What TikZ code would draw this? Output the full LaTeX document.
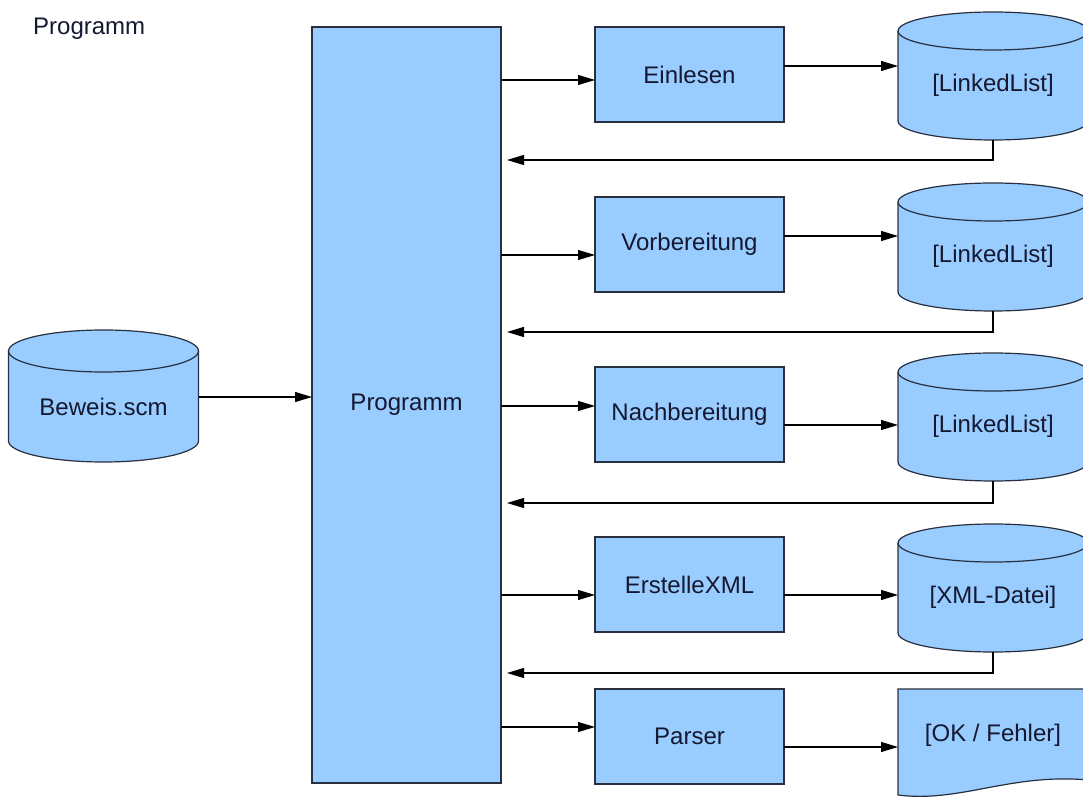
\documentclass[tikz,border=0pt]{standalone}
\usepackage{fontspec}
\setmainfont{Liberation Sans}
\usetikzlibrary{arrows.meta,calc,backgrounds}

\definecolor{boxfill}{RGB}{153,204,255}
\definecolor{boxline}{RGB}{40,48,64}
\definecolor{txt}{RGB}{20,24,48}

% Data store drawn as a cylinder: name, centre x, top y, bottom y, cap radius, label
\newcommand\DataStore[6]{%
  \node[dbbody, minimum height={#3-#5-#4}] (#1) at ({#2},{(#3-#5+#4)/2}) {#6};
  \begin{scope}[on background layer]
    \path[dbshape] (#1.north west) -- ([yshift=#5pt]#1.south west)
      arc[start angle=180, end angle=360, x radius=95pt, y radius=#5pt]
      -- (#1.north east)
      arc[start angle=0, end angle=180, x radius=95pt, y radius=#5pt] -- cycle;
    \draw[dbline] (#1.north west)
      arc[start angle=180, end angle=360, x radius=95pt, y radius=#5pt];
  \end{scope}%
}

\begin{document}
\begin{tikzpicture}[x=1pt, y=1pt,
  font=\fontsize{24}{28}\selectfont,
  every node/.style={text=txt},
  procbox/.style={draw=boxline, fill=boxfill, line width=1.2pt,
    minimum width=189pt, minimum height=95pt, inner sep=0pt, outer sep=0pt},
  dbbody/.style={inner sep=0pt, outer sep=0pt, minimum width=190pt},
  dbshape/.style={draw=boxline, fill=boxfill, line width=1.2pt},
  dbline/.style={draw=boxline, line width=1.2pt},
  flow/.style={draw=black, line width=1.1pt, -{Triangle[length=17pt, width=10pt]}},
]
\useasboundingbox (0,0) rectangle (1083,798);
\clip (0,0) rectangle (1083,798);

% title
\node[anchor=base west, inner sep=0pt] (title) at (33,763) {Programm};

% main program block
\node[procbox, minimum height=756pt] (prog) at (406.5,393) {Programm};
\coordinate (back) at ($(prog.east)+(6,0)$);

% input file
\DataStore{bew}{103.5}{468}{336}{21}{Beweis.scm}

% processing steps
\node[procbox] (p1) at (689.5,723.5) {Einlesen};
\node[procbox] (p2) at (689.5,553.5) {Vorbereitung};
\node[procbox] (p3) at (689.5,383.5) {Nachbereitung};
\node[procbox] (p4) at (689.5,213.5) {ErstelleXML};
\node[procbox] (p5) at (689.5,61.5) {Parser};

% intermediate results
\DataStore{c1}{993}{786}{658}{19}{[LinkedList]}
\DataStore{c2}{993}{615}{487}{19}{[LinkedList]}
\DataStore{c3}{993}{445}{317}{19}{[LinkedList]}
\DataStore{c4}{993}{274}{146}{19}{[XML-Datei]}

% final result as a document shape
\node[dbbody, minimum height=92pt] (res) at (993,63) {[OK / Fehler]};
\begin{scope}[on background layer]
  \path[dbshape] (res.north west) -- (res.west |- 0,3)
    .. controls (960,-5) and (1010,25) .. (res.east |- 0,18)
    -- (res.north east) -- cycle;
\end{scope}

% connectors
\draw[flow] (bew.east |- 0,401) -- (prog.west |- 0,401);

\draw[flow] (prog.east |- 0,718) -- (p1.west |- 0,718);
\draw[flow] (prog.east |- 0,543) -- (p2.west |- 0,543);
\draw[flow] (prog.east |- 0,392) -- (p3.west |- 0,392);
\draw[flow] (prog.east |- 0,203) -- (p4.west |- 0,203);
\draw[flow] (prog.east |- 0,71) -- (p5.west |- 0,71);

\draw[flow] (p1.east |- 0,732) -- (c1.west |- 0,732);
\draw[flow] (p2.east |- 0,562) -- (c2.west |- 0,562);
\draw[flow] (p3.east |- 0,373) -- (c3.west |- 0,373);
\draw[flow] (p4.east |- 0,203) -- (c4.west |- 0,203);
\draw[flow] (p5.east |- 0,51) -- (res.west |- 0,51);

\draw[flow] (c1.south) -- (c1.south |- 0,638) -- (back |- 0,638);
\draw[flow] (c2.south) -- (c2.south |- 0,466) -- (back |- 0,466);
\draw[flow] (c3.south) -- (c3.south |- 0,295) -- (back |- 0,295);
\draw[flow] (c4.south) -- (c4.south |- 0,125) -- (back |- 0,125);
\end{tikzpicture}
\end{document}
